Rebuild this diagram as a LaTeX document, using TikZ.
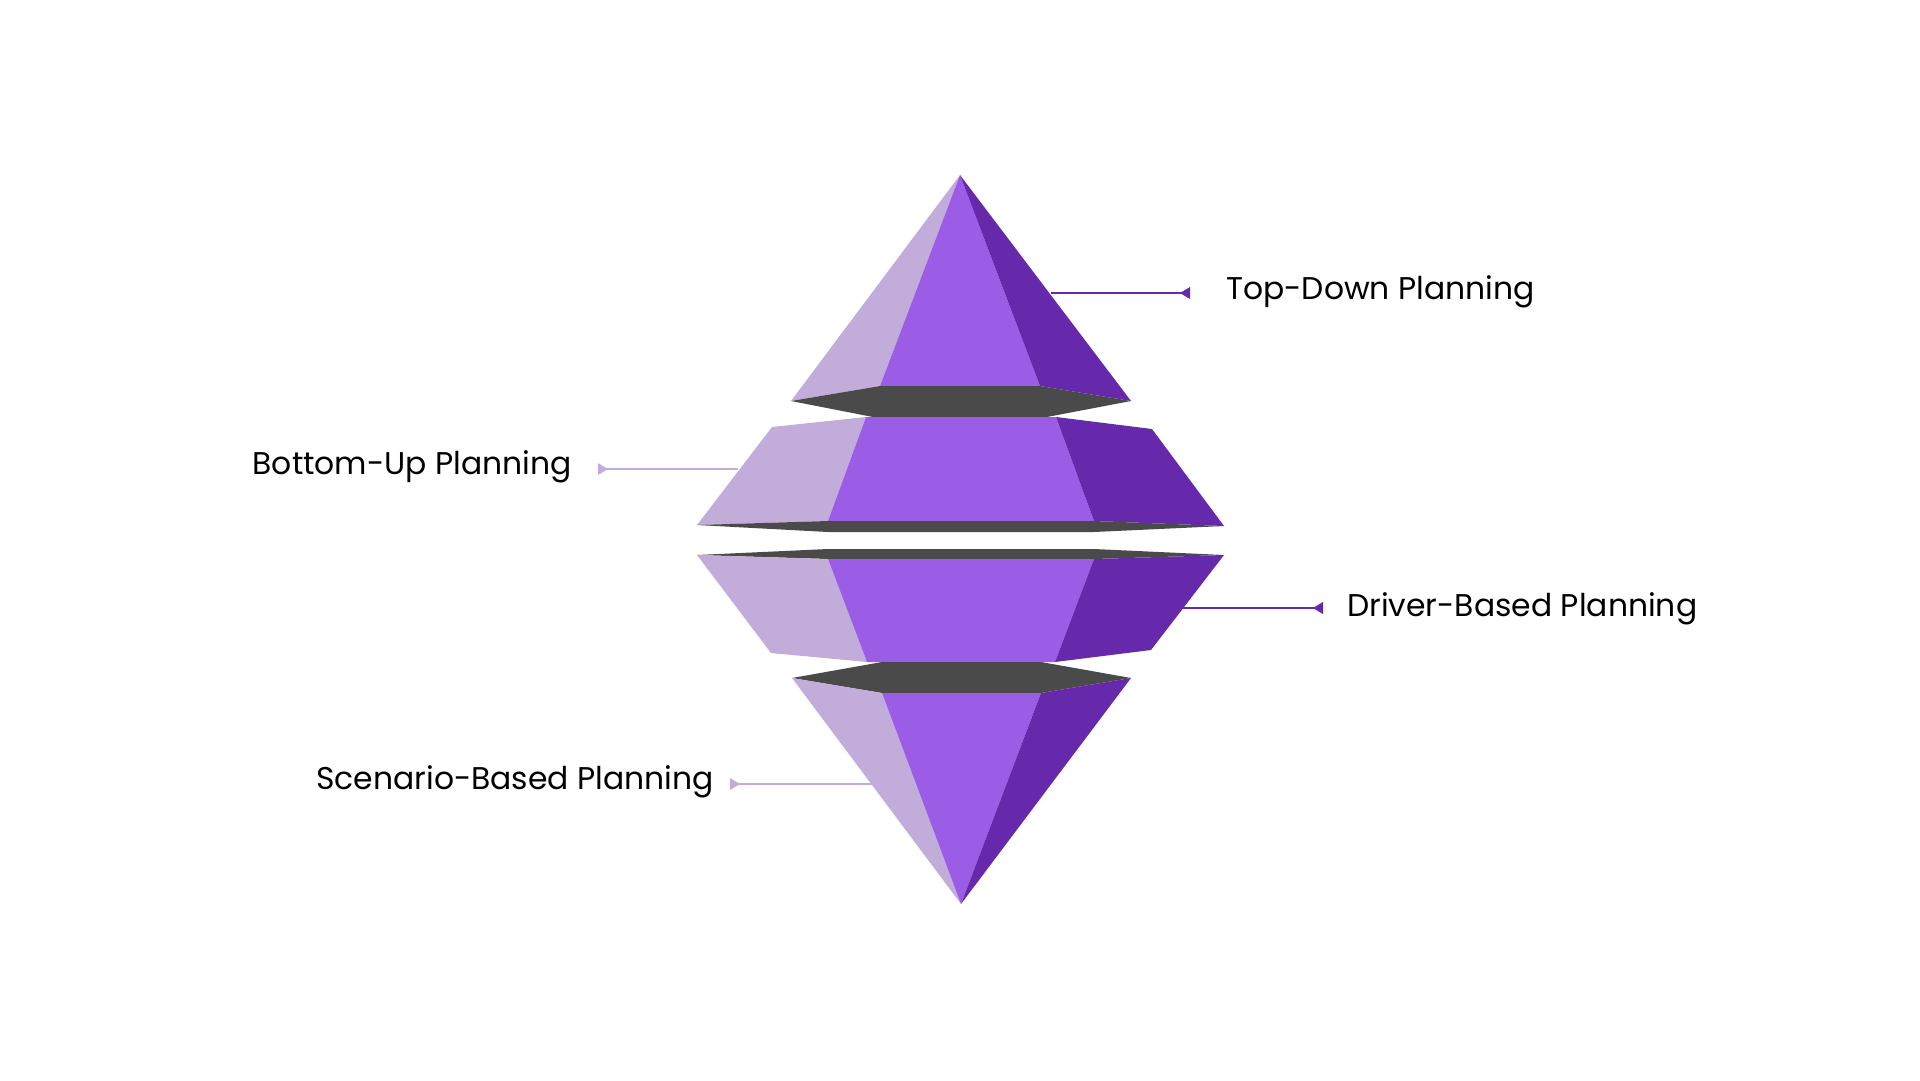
\documentclass[tikz,border=0pt]{standalone}
\usepackage{fontspec}
\setmainfont{Poppins}
\begin{document}
\begin{tikzpicture}[x=1pt,y=-1pt,
  lt/.style={fill=lc},fr/.style={fill=fc},dk/.style={fill=dc},bd/.style={fill=bc},
  lbl/.style={font=\fontsize{31.4}{36}\selectfont, text=black, inner sep=0pt}]
\definecolor{lc}{HTML}{C2ADDA}\definecolor{fc}{HTML}{9B5CE6}
\definecolor{dc}{HTML}{6629AB}\definecolor{bc}{HTML}{4A4A4A}
\useasboundingbox[fill=white] (0,0) rectangle (1920,1080);
% top piece
\fill[lt] (960,175)--(791,401)--(880,386)--cycle;
\fill[fr] (960,175)--(880,386)--(1040,386)--cycle;
\fill[dk] (960,175)--(1040,386)--(1131,401)--cycle;
\fill[bd] (791,401)--(880,386)--(1040,386)--(1131,401)--(1047,417)--(873,417)--cycle;
% upper middle
\fill[lt] (772,427)--(866,417)--(828,521)--(697,525)--cycle;
\fill[fr] (866,417)--(1056,417)--(1094,521)--(828,521)--cycle;
\fill[dk] (1056,417)--(1152,429)--(1224,526)--(1094,521)--cycle;
\fill[bd] (697,525)--(828,521)--(1094,521)--(1224,526)--(1094,532)--(828,532)--cycle;
% lower middle
\fill[bd] (697,555)--(828,549)--(1094,549)--(1224,555)--(1094,559)--(828,559)--cycle;
\fill[lt] (697,555)--(828,559)--(867,662)--(771,653)--cycle;
\fill[fr] (828,559)--(1094,559)--(1055,662)--(867,662)--cycle;
\fill[dk] (1094,559)--(1224,555)--(1151,650)--(1055,662)--cycle;
% bottom piece
\fill[bd] (792,678)--(882,662)--(1041,662)--(1131,678)--(1041,693)--(882,693)--cycle;
\fill[lt] (792,678)--(882,693)--(961,904)--cycle;
\fill[fr] (882,693)--(1041,693)--(961,904)--cycle;
\fill[dk] (1041,693)--(1131,678)--(961,904)--cycle;
% labels
\node[lbl,anchor=west] (t1) at (1226,292) {Top-Down Planning};
\coordinate (a1) at (1051,293); \coordinate (b1) at (1190,293);
\draw[dc,line width=1.5pt] (a1)--(b1);
\fill[dc] (b1)++(-10,0)--++(10,-6)--++(0,12)--cycle;
\node[lbl,anchor=east] (t2) at (572,467) {Bottom-Up Planning};
\coordinate (a2) at (738,469); \coordinate (b2) at (598,469);
\draw[lc,line width=1.5pt] (a2)--(b2);
\fill[lc] (b2)++(10,0)--++(-10,-6)--++(0,12)--cycle;
\node[lbl,anchor=west] (t3) at (1347,609) {Driver-Based Planning};
\coordinate (a3) at (1183,608); \coordinate (b3) at (1323,608);
\draw[dc,line width=1.5pt] (a3)--(b3);
\fill[dc] (b3)++(-10,0)--++(10,-6)--++(0,12)--cycle;
\node[lbl,anchor=east] (t4) at (714,782) {Scenario-Based Planning};
\coordinate (a4) at (872,784); \coordinate (b4) at (730,784);
\draw[lc,line width=1.5pt] (a4)--(b4);
\fill[lc] (b4)++(10,0)--++(-10,-6)--++(0,12)--cycle;
\end{tikzpicture}
\end{document}
